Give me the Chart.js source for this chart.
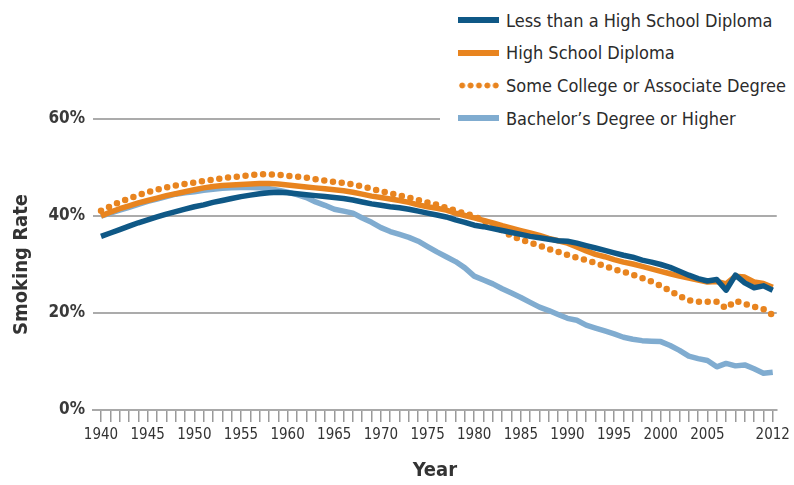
<!DOCTYPE html>
<html>
<head>
<meta charset="utf-8">
<script src="https://cdn.jsdelivr.net/npm/chart.js@4.4.1/dist/chart.umd.min.js"></script>
<style>
  html, body { margin: 0; padding: 0; background: #fff; }
  #wrap { position: relative; width: 794px; height: 485px; }
  #legend {
    position: absolute; left: 440px; top: 0; width: 354px; height: 134px;
    background: #fff;
    font-family: 'DejaVu Sans Condensed', 'Liberation Sans Narrow', sans-serif;
    font-size: 18px; color: #2b2b2b;
  }
  .item { position: absolute; left: 18px; height: 24px; display: flex; align-items: center; white-space: nowrap; }
  .swatch { width: 41px; height: 6px; margin-right: 7px; flex: none; }
  .dots {
    height: 7px;
    background: radial-gradient(circle, #e8841f 2.6px, rgba(232,132,31,0) 3.3px) 0 0 / 8.4px 7px repeat-x;
  }
</style>
</head>
<body>
<div id="wrap">
  <canvas id="chart" width="794" height="485"></canvas>
  <div id="legend"></div>
</div>
<script>
// data, 1940 - 2012
const years = [1940,1941,1942,1943,1944,1945,1946,1947,1948,1949,
  1950,1951,1952,1953,1954,1955,1956,1957,1958,1959,
  1960,1961,1962,1963,1964,1965,1966,1967,1968,1969,
  1970,1971,1972,1973,1974,1975,1976,1977,1978,1979,
  1980,1981,1982,1983,1984,1985,1986,1987,1988,1989,
  1990,1991,1992,1993,1994,1995,1996,1997,1998,1999,
  2000,2001,2002,2003,2004,2005,2006,2007,2008,2009,
  2010,2011,2012];

const lessThanHS = [35.8,36.5,37.2,37.9,38.6,39.2,39.8,40.4,40.9,41.4,
  41.9,42.3,42.8,43.2,43.6,44.0,44.3,44.6,44.8,44.9,
  44.8,44.6,44.4,44.2,44.0,43.8,43.6,43.3,42.9,42.5,
  42.2,41.9,41.7,41.4,41.0,40.6,40.2,39.8,39.2,38.7,
  38.1,37.8,37.4,37.0,36.6,36.2,35.8,35.5,35.2,34.9,
  34.8,34.4,33.9,33.4,32.9,32.4,31.9,31.5,30.9,30.5,
  30.0,29.4,28.6,27.8,27.1,26.6,26.9,24.7,27.8,26.2,
  25.2,25.6,24.7];

const highSchool = [40.0,40.8,41.5,42.1,42.7,43.2,43.7,44.2,44.6,45.0,
  45.4,45.8,46.1,46.3,46.4,46.5,46.6,46.7,46.7,46.6,
  46.4,46.2,46.0,45.8,45.6,45.4,45.2,44.9,44.5,44.1,
  43.8,43.5,43.2,42.8,42.3,41.9,41.6,41.2,40.6,40.1,
  39.6,39.1,38.6,38.0,37.5,37.0,36.5,36.0,35.4,34.9,
  34.4,33.6,32.8,32.1,31.6,31.0,30.5,30.1,29.6,29.1,
  28.6,28.1,27.6,27.2,26.8,26.4,26.5,26.0,27.6,27.4,
  26.4,26.1,25.3];

const someCollege = [41.1,42.0,42.9,43.6,44.3,44.9,45.4,45.9,46.3,46.6,
  46.9,47.2,47.5,47.8,48.0,48.2,48.4,48.6,48.6,48.5,
  48.3,48.1,47.9,47.6,47.3,47.0,46.8,46.5,46.1,45.6,
  45.1,44.7,44.2,43.8,43.3,42.8,42.3,41.7,41.1,40.5,
  40.0,39.0,38.0,37.0,35.9,35.1,34.5,33.9,33.2,32.6,
  32.0,31.4,30.9,30.3,29.7,29.0,28.5,27.9,27.2,26.5,
  25.6,24.6,23.5,22.6,22.3,22.3,22.3,21.0,22.5,21.9,
  21.3,20.8,19.6];

const bachelors = [40.0,40.6,41.2,41.8,42.4,43.0,43.5,44.0,44.5,44.8,
  45.0,45.3,45.5,45.7,45.8,45.9,45.9,45.8,45.6,45.3,
  44.9,44.4,43.8,42.9,42.2,41.4,41.0,40.6,39.6,38.7,
  37.6,36.8,36.2,35.6,34.8,33.7,32.6,31.6,30.6,29.3,
  27.6,26.8,26.0,25.0,24.1,23.2,22.2,21.2,20.5,19.7,
  18.9,18.5,17.5,16.9,16.3,15.7,15.0,14.6,14.3,14.2,
  14.1,13.3,12.3,11.1,10.6,10.2,8.9,9.6,9.1,9.3,
  8.5,7.6,7.8];

const seriesNames = ['Less than a High School Diploma', 'High School Diploma',
  'Some College or Associate Degree', "Bachelor\u2019s Degree or Higher"];
const xLabels = [1940,1945,1950,1955,1960,1965,1970,1975,1980,1985,1990,1995,2000,2005,2012];
const yTicks = [0, 20, 40, 60];

const colors = ['#0f5886', '#e8841f', '#e8841f', '#80acd0'];
const font = "'DejaVu Sans Condensed', 'Liberation Sans Narrow', sans-serif";

function points(vals) {
  return years.map((yr, i) => ({ x: yr, y: vals[i] }));
}

const datasets = [
  { label: seriesNames[0], data: points(lessThanHS), borderColor: colors[0], borderWidth: 5.5 },
  { label: seriesNames[1], data: points(highSchool), borderColor: colors[1], borderWidth: 5.5 },
  { label: seriesNames[2], data: points(someCollege), borderColor: colors[2], borderWidth: 6.5,
    borderDash: [0, 8.8], borderCapStyle: 'round' },
  { label: seriesNames[3], data: points(bachelors), borderColor: colors[3], borderWidth: 5.5 },
].map(d => Object.assign({ pointRadius: 0, tension: 0, fill: false, borderJoinStyle: 'round' }, d));

new Chart(document.getElementById('chart').getContext('2d'), {
  type: 'line',
  data: { datasets },
  options: {
    responsive: false,
    animation: false,
    layout: { padding: { top: 119, right: 16, bottom: 0, left: 0 } },
    plugins: { legend: { display: false }, tooltip: { enabled: false } },
    scales: {
      x: {
        type: 'linear',
        min: 1939.14,
        max: 2012.43,
        afterFit: s => { s.height = 75; },
        afterBuildTicks: s => { s.ticks = years.map(v => ({ value: v })); },
        ticks: {
          autoSkip: false, maxRotation: 0, padding: 4,
          color: '#333', font: { family: font, size: 15 },
          callback: v => xLabels.includes(v) ? String(v) : ''
        },
        grid: { drawOnChartArea: false, drawTicks: true, tickLength: 12, color: '#9a9a9a', lineWidth: 1.5 },
        border: { display: true, color: '#a8a8a8', width: 2 },
        title: { display: true, text: 'Year', color: '#333', padding: { top: 0, bottom: 2 },
          font: { family: font, size: 20, weight: 'bold' } }
      },
      y: {
        min: 0,
        max: 60,
        afterFit: s => { s.width = 93; },
        afterBuildTicks: s => { s.ticks = yTicks.map(v => ({ value: v })); },
        ticks: { padding: 8, color: '#3a3a3a', font: { family: font, size: 17, weight: 'bold' },
          callback: v => v + '%' },
        grid: { drawTicks: false, color: '#ababab', lineWidth: 2 },
        border: { display: false },
        title: { display: true, text: 'Smoking Rate', color: '#333', padding: { top: 10, bottom: 0 },
          font: { family: font, size: 20, weight: 'bold' } }
      }
    }
  }
});

// legend
const legend = document.getElementById('legend');
const rowY = [20, 52.5, 85, 118];
seriesNames.forEach((name, i) => {
  const item = document.createElement('div');
  item.className = 'item';
  item.style.top = (rowY[i] - 12) + 'px';
  const sw = document.createElement('div');
  sw.className = i === 2 ? 'swatch dots' : 'swatch';
  if (i !== 2) sw.style.background = colors[i];
  const txt = document.createElement('span');
  txt.textContent = name;
  item.appendChild(sw);
  item.appendChild(txt);
  legend.appendChild(item);
});
</script>
</body>
</html>
